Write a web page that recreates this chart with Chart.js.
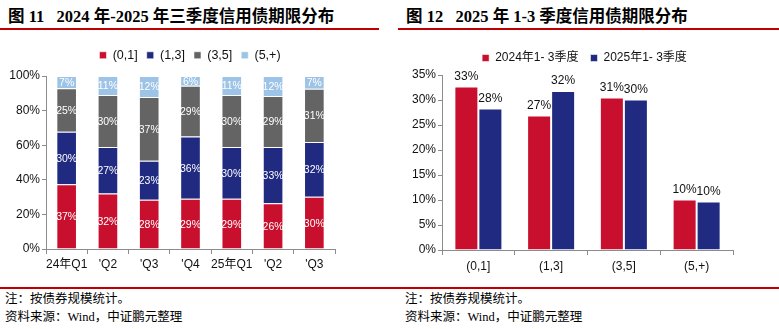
<!DOCTYPE html>
<html>
<head>
<meta charset="utf-8">
<script src="https://cdn.jsdelivr.net/npm/chart.js@4.4.1/dist/chart.umd.min.js"></script>
<style>
  body { margin: 0; width: 779px; height: 329px; background: #fff; position: relative; overflow: hidden; }
  .title { position: absolute; top: 3px; font-family: "Times New Roman", "Liberation Serif", "Noto Sans CJK SC", serif; font-weight: bold; font-size: 16.5px; color: #000; white-space: nowrap; }
  .redline { position: absolute; height: 1.5px; background: #c00000; }
  .note { position: absolute; font-family: "Noto Sans CJK SC", sans-serif; font-size: 12.5px; color: #000; white-space: nowrap; line-height: 18px; }
  .note .w { font-family: "Times New Roman", "Liberation Serif", serif; }
  .box { position: absolute; top: 40px; height: 235px; }
</style>
</head>
<body>
<div class="title" style="left:8px;">图 11&nbsp;&nbsp;&nbsp;2024 年-2025 年三季度信用债期限分布</div>
<div class="title" style="left:406px;">图 12&nbsp;&nbsp;&nbsp;2025 年 1-3 季度信用债期限分布</div>
<div class="redline" style="left:0; width:379px; top:28px;"></div>
<div class="redline" style="left:398px; width:381px; top:28px;"></div>

<div class="box" style="left:0; width:380px;"><canvas id="left"></canvas></div>
<div class="box" style="left:390px; width:389px;"><canvas id="right"></canvas></div>

<div class="redline" style="left:0; width:779px; top:287px;"></div>
<div class="note" style="left:5px; top:289px;">注：按债券规模统计。</div>
<div class="note" style="left:5px; top:307px;">资料来源：<span class="w">Wind</span>，中证鹏元整理</div>
<div class="note" style="left:405px; top:289px;">注：按债券规模统计。</div>
<div class="note" style="left:405px; top:307px;">资料来源：<span class="w">Wind</span>，中证鹏元整理</div>

<script>
// left chart: share by maturity bucket per quarter (%)
var quarters = ['24年Q1', "'Q2", "'Q3", "'Q4", '25年Q1', "'Q2", "'Q3"];
var share01 = [37.4, 32.1, 28.4, 29.0, 29.0, 26.4, 30.2];
var share13 = [30.4, 26.9, 22.6, 36.0, 30.0, 32.6, 31.7];
var share35 = [25.1, 30.0, 36.9, 29.3, 30.0, 29.4, 30.8];
var share5p = [7.1, 11.0, 12.1, 5.7, 11.0, 11.6, 7.3];
var leftTicks = [0, 20, 40, 60, 80, 100];

// right chart: Q1-Q3 comparison (%)
var buckets = ['(0,1]', '(1,3]', '(3,5]', '(5,+)'];
var y2024 = [32.7, 26.9, 30.5, 10.1];
var y2025 = [28.3, 31.8, 30.1, 9.7];
var rightTicks = [0, 5, 10, 15, 20, 25, 30, 35];

var RED = '#c8102e', BLUE = '#1f2a80', GRAY = '#646464', LBLUE = '#9dc3e6';
var FONT = '"Liberation Sans", Arial, "Noto Sans CJK SC", sans-serif';
var AXIS = '#8c8c8c';

Chart.defaults.font.family = FONT;
Chart.defaults.color = '#111';
Chart.defaults.animation = false;

function legendHeight(h) {
  return {
    id: 'legendHeight',
    beforeInit: function(chart) {
      var orig = chart.legend.fit;
      chart.legend.fit = function() {
        orig.bind(chart.legend)();
        this.height = h;
      };
    }
  };
}

// value labels
var labelPlugin = {
  id: 'barLabels',
  afterDatasetsDraw: function(chart, args, opts) {
    var ctx = chart.ctx;
    ctx.save();
    ctx.font = opts.size + 'px ' + FONT;
    ctx.fillStyle = opts.color;
    ctx.textAlign = 'center';
    chart.data.datasets.forEach(function(ds, i) {
      chart.getDatasetMeta(i).data.forEach(function(bar, j) {
        var p = bar.getProps(['x', 'y', 'base'], true);
        var txt = Math.round(ds.data[j]) + '%';
        if (opts.inside) {
          ctx.textBaseline = 'middle';
          ctx.fillText(txt, p.x, (p.y + p.base) / 2 + 1);
        } else {
          ctx.textBaseline = 'bottom';
          ctx.fillText(txt, p.x, p.y - 4);
        }
      });
    });
    ctx.restore();
  }
};

function seg(label, data, color) {
  return { label: label, data: data, backgroundColor: color, borderColor: 'rgba(255,255,255,0.55)', borderWidth: 1, barPercentage: 0.5, categoryPercentage: 1 };
}

new Chart(document.getElementById('left'), {
  type: 'bar',
  data: {
    labels: quarters,
    datasets: [
      seg('(0,1]', share01, RED),
      seg('(1,3]', share13, BLUE),
      seg('(3,5]', share35, GRAY),
      seg('(5,+)', share5p, LBLUE)
    ]
  },
  options: {
    responsive: true,
    maintainAspectRatio: false,
    layout: { padding: 0 },
    plugins: {
      legend: {
        labels: { boxWidth: 7, boxHeight: 7, padding: 9, color: '#111', font: { size: 12.5 } }
      },
      tooltip: { enabled: false },
      barLabels: { inside: true, color: '#fff', size: 10.5 }
    },
    scales: {
      x: {
        stacked: true,
        grid: { display: true, drawOnChartArea: false, offset: true, tickLength: 5, color: AXIS },
        border: { color: AXIS, width: 1 },
        ticks: { font: { size: 12 }, padding: 3, color: '#111', maxRotation: 0, autoSkip: false },
        afterFit: function(s) { s.height = 26; }
      },
      y: {
        stacked: true,
        min: 0, max: 100,
        afterBuildTicks: function(s) { s.ticks = leftTicks.map(function(v) { return { value: v }; }); },
        grid: { display: true, drawOnChartArea: false, tickLength: 4, color: AXIS },
        border: { color: AXIS, width: 1 },
        ticks: { font: { size: 12 }, padding: 2, color: '#111', callback: function(v) { return v + '%'; } },
        afterFit: function(s) { s.width = 46; }
      },
      pad: {
        position: 'right', display: true,
        grid: { display: false }, border: { display: false }, ticks: { display: false },
        afterFit: function(s) { s.width = 45; }
      }
    }
  },
  plugins: [legendHeight(36), labelPlugin]
});

function grp(label, data, color) {
  return { label: label, data: data, backgroundColor: color, borderColor: 'rgba(255,255,255,0.55)', borderWidth: 1, barPercentage: 1, categoryPercentage: 0.66 };
}

new Chart(document.getElementById('right'), {
  type: 'bar',
  data: {
    labels: buckets,
    datasets: [
      grp('2024年1- 3季度', y2024, RED),
      grp('2025年1- 3季度', y2025, BLUE)
    ]
  },
  options: {
    responsive: true,
    maintainAspectRatio: false,
    layout: { padding: 0 },
    plugins: {
      legend: {
        labels: { boxWidth: 7, boxHeight: 7, padding: 12, color: '#111', font: { size: 12 } }
      },
      tooltip: { enabled: false },
      barLabels: { inside: false, color: '#111', size: 12 }
    },
    scales: {
      x: {
        grid: { display: true, drawOnChartArea: false, offset: true, tickLength: 5, color: AXIS },
        border: { color: AXIS, width: 1 },
        ticks: { font: { size: 12 }, padding: 4, color: '#111' },
        afterFit: function(s) { s.height = 25; }
      },
      y: {
        min: 0, max: 35,
        afterBuildTicks: function(s) { s.ticks = rightTicks.map(function(v) { return { value: v }; }); },
        grid: { display: true, drawOnChartArea: false, tickLength: 4, color: AXIS },
        border: { color: AXIS, width: 1 },
        ticks: { font: { size: 12 }, padding: 2, color: '#111', callback: function(v) { return v + '%'; } },
        afterFit: function(s) { s.width = 52; }
      },
      pad: {
        position: 'right', display: true,
        grid: { display: false }, border: { display: false }, ticks: { display: false },
        afterFit: function(s) { s.width = 46; }
      }
    }
  },
  plugins: [legendHeight(35), labelPlugin]
});
</script>
</body>
</html>
